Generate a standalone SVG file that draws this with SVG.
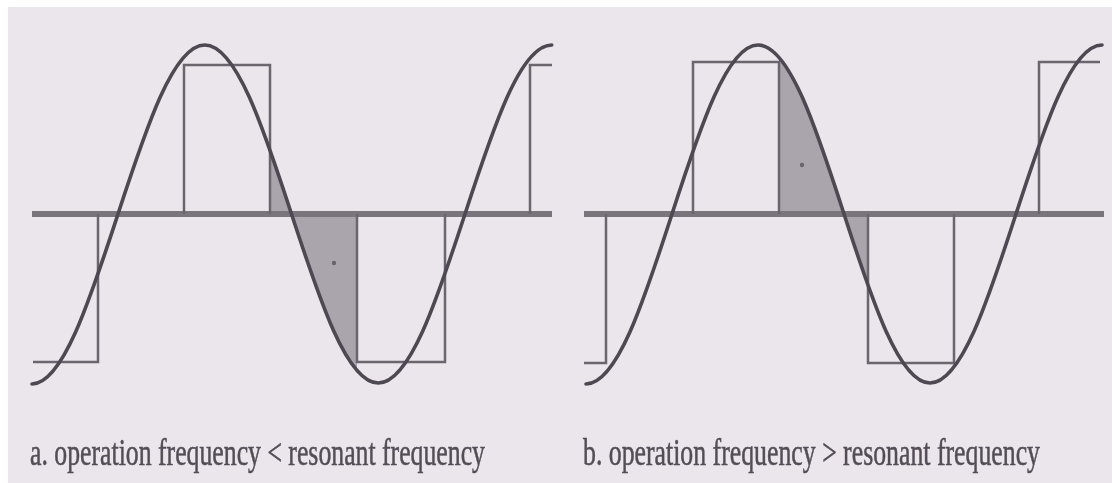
<svg xmlns="http://www.w3.org/2000/svg" width="1112" height="483" viewBox="0 0 1112 483">
  <style>
    .bg { fill: #ebe5ec; }
    .axis { stroke: #7a757d; stroke-width: 6; fill: none; }
    .square { stroke: #6b666e; stroke-width: 2.5; fill: none; stroke-linejoin: miter; }
    .sine { stroke: #4d4852; stroke-width: 3.6; fill: none; stroke-linecap: round; }
    .shade { fill: #aaa4ad; stroke: none; }
    .dot { fill: #6a646d; }
    .caption { font-family: "Liberation Serif", "Times New Roman", serif; font-size: 25px; fill: #524d56; stroke: #524d56; stroke-width: 0.35; }
  </style>
  <defs>
    <filter id="soft" x="-5%" y="-5%" width="110%" height="110%">
      <feGaussianBlur stdDeviation="0.7"/>
    </filter>
  </defs>
  <rect x="0" y="0" width="1112" height="483" fill="#ffffff"/>
  <rect class="bg" x="8" y="7" width="1104" height="476"/>

  <g filter="url(#soft)">
    <g id="panel-a">
      <path class="shade" d="M270,214 L270,149.5 L280,179.1 L291.5,214 Z"/>
      <path class="shade" d="M291.5,214 L300,239.9 L310,269.5 L320,297 L330,322.1 L340,343.7 L350,361.3 L357,368.5 L357,214 Z"/>
      <line class="axis" x1="32" y1="214" x2="552" y2="214"/>
      <path class="square" d="M33,362 L98,362 L98,214 M184,214 L184,65 L270,65 L270,214 M357,214 L357,362 L445,362 L445,214 M530,214 L530,65 L552,65"/>
      <path class="sine" d="M32,384 C62.64,384 89.71,300.58 118,214 C146.29,127.42 173.36,45 204.75,45 C236.14,45 263.21,127.42 291.5,214 C319.79,300.58 346.86,383 378.25,383 C409.64,383 436.71,300.58 465,214 C493.29,127.42 520.36,45 551.75,45"/>
      <circle class="dot" cx="334" cy="263" r="2.2"/>
      <text class="caption" transform="translate(30,465) scale(1,1.5)" x="0" y="0" textLength="455" lengthAdjust="spacingAndGlyphs">a. operation frequency &lt; resonant frequency</text>
    </g>

    <g id="panel-b">
      <path class="shade" d="M779,214 L779,57.2 L790,73 L800,92.4 L810,115.6 L820,142.2 L830,171.1 L844,214 Z"/>
      <path class="shade" d="M844,214 L856,250.8 L868,285.5 L868,214 Z"/>
      <line class="axis" x1="584" y1="214" x2="1104" y2="214"/>
      <path class="square" d="M584,363 L606,363 L606,214 M693,214 L693,62 L779,62 L779,214 M868,214 L868,363 L954,363 L954,214 M1039,214 L1039,62 L1100,62"/>
      <path class="sine" d="M586,384 C617.12,384 643.96,300.58 672,214 C700.04,127.42 727.12,45 758,45 C789.12,45 816.04,127.42 844,214 C872.04,300.58 899.12,383 930,383 C961.12,383 987.96,300.58 1016,214 C1044.04,127.42 1071.12,45 1102,45"/>
      <circle class="dot" cx="802" cy="165" r="2.2"/>
      <text class="caption" transform="translate(583,465) scale(1,1.5)" x="0" y="0" textLength="457" lengthAdjust="spacingAndGlyphs">b. operation frequency &gt; resonant frequency</text>
    </g>
  </g>
</svg>
